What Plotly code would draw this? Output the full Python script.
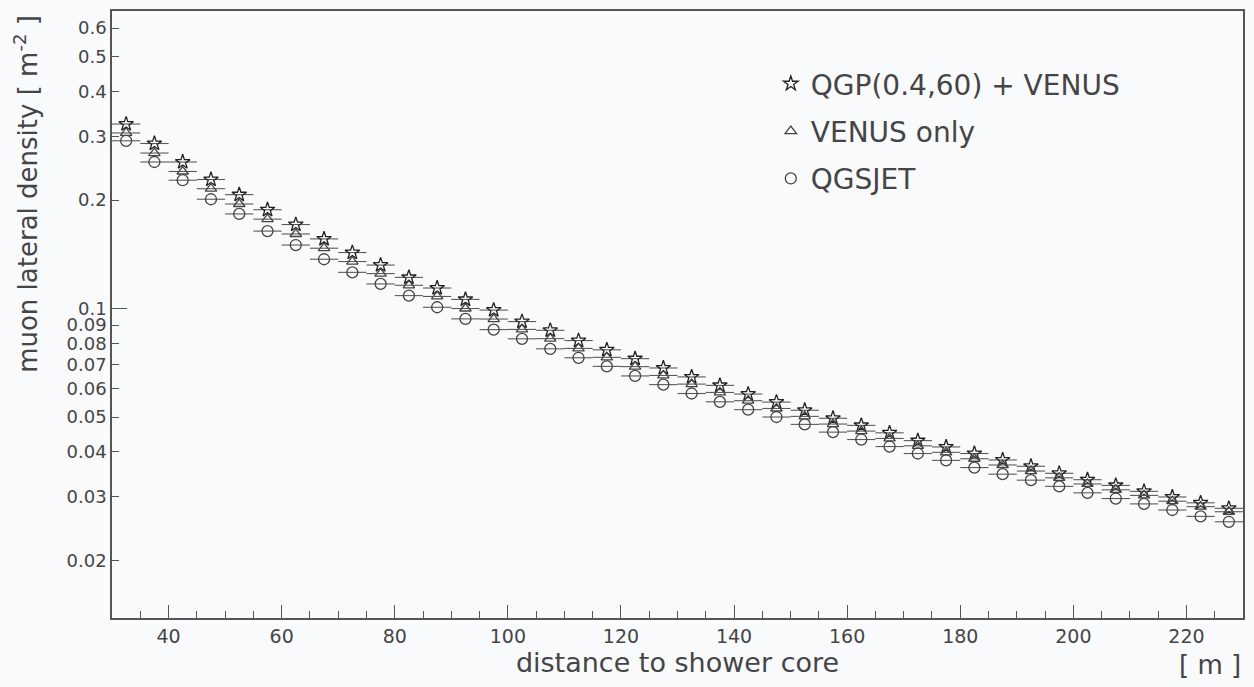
import plotly.graph_objects as go

# Bin edges run from 30 m to 230 m in 5 m steps; points sit at bin centres
bin_width = 5.0
distance = [32.5 + 5.0 * i for i in range(40)]

qgp_venus = [0.325, 0.287, 0.255, 0.228, 0.207, 0.188, 0.171, 0.156, 0.143, 0.132,
             0.122, 0.114, 0.106, 0.099, 0.092, 0.087, 0.0815, 0.0768, 0.0726, 0.0684,
             0.0646, 0.0612, 0.0579, 0.0550, 0.0522, 0.0496, 0.0474, 0.0452, 0.0430, 0.0413,
             0.0396, 0.0380, 0.0365, 0.0349, 0.0335, 0.0323, 0.0311, 0.0300, 0.0289, 0.0279]

venus_only = [0.307, 0.270, 0.240, 0.215, 0.195, 0.177, 0.161, 0.147, 0.135, 0.125,
              0.116, 0.108, 0.100, 0.0935, 0.0875, 0.0825, 0.0775, 0.0732, 0.0690, 0.0652,
              0.0617, 0.0585, 0.0555, 0.0528, 0.0502, 0.0478, 0.0457, 0.0436, 0.0416, 0.0399,
              0.0383, 0.0368, 0.0354, 0.0339, 0.0326, 0.0314, 0.0303, 0.0292, 0.0282, 0.0273]

qgsjet = [0.292, 0.255, 0.227, 0.201, 0.183, 0.164, 0.150, 0.137, 0.126, 0.117,
          0.1086, 0.1008, 0.0936, 0.0874, 0.0824, 0.0773, 0.0730, 0.0691, 0.0650, 0.0615,
          0.0581, 0.0551, 0.0524, 0.0500, 0.0477, 0.0454, 0.0433, 0.0414, 0.0396, 0.0379,
          0.0362, 0.0347, 0.0334, 0.0321, 0.0308, 0.0297, 0.0287, 0.0276, 0.0265, 0.0256]

y_ticks = [0.02, 0.03, 0.04, 0.05, 0.06, 0.07, 0.08, 0.09, 0.1, 0.2, 0.3, 0.4, 0.5, 0.6]
y_tick_text = ["0.02", "0.03", "0.04", "0.05", "0.06", "0.07", "0.08", "0.09",
               "0.1", "0.2", "0.3", "0.4", "0.5", "0.6"]

FONT = "DejaVu Sans"
INK = "#454545"
AXIS = "#555555"
BG = "#f9fafc"

series = [
    ("QGP(0.4,60) + VENUS", qgp_venus, "star-open", 11, "#222222"),
    ("VENUS only", venus_only, "triangle-up-open", 10, "#444444"),
    ("QGSJET", qgsjet, "circle-open", 11, "#444444"),
]

fig = go.Figure()
for i, (name, vals, sym, size, col) in enumerate(series):
    fig.add_trace(go.Scatter(
        x=distance, y=vals, mode="markers", name=name,
        legendgroup=f"g{i}",
        marker=dict(symbol=sym, size=size, color=col, line=dict(width=1.3, color=col)),
        error_x=dict(type="constant", value=bin_width / 2, width=0,
                     thickness=1.1, color="#5a5a5a"),
    ))

# Long tick at 0.1 on an overlaid axis
fig.add_trace(go.Scatter(x=[None], y=[None], yaxis="y2", showlegend=False))

yrange = [-1.8587, -0.1745]

fig.update_layout(
    width=1254, height=687,
    margin=dict(l=112, r=9, t=10, b=69),
    paper_bgcolor=BG, plot_bgcolor=BG,
    font=dict(family=FONT, size=18, color=INK),
    showlegend=True,
    legend=dict(
        x=0.5825, y=0.921, xanchor="left", yanchor="top",
        bgcolor="rgba(0,0,0,0)", font=dict(size=28, color=INK),
        tracegroupgap=8, itemsizing="trace",
    ),
    xaxis=dict(
        range=[30, 230], showgrid=False, zeroline=False,
        showline=True, linecolor=AXIS, linewidth=1.5, mirror=True,
        tick0=0, dtick=20, ticks="inside", ticklen=13, tickwidth=1.2, tickcolor=AXIS,
        minor=dict(dtick=5, ticks="inside", ticklen=7, tickwidth=1.2, tickcolor=AXIS),
        tickfont=dict(size=19, color=INK),
        title=dict(text="distance to shower core", font=dict(size=27, color=INK), standoff=8),
    ),
    yaxis=dict(
        type="log", range=yrange, showgrid=False, zeroline=False,
        showline=True, linecolor=AXIS, linewidth=1.5, mirror=True,
        tickvals=y_ticks, ticktext=y_tick_text,
        ticks="inside", ticklen=7, tickwidth=1.2, tickcolor=AXIS,
        tickfont=dict(size=18, color=INK),
    ),
    yaxis2=dict(
        type="log", range=yrange, overlaying="y", side="left",
        showgrid=False, zeroline=False, showline=False,
        tickvals=[0.1], showticklabels=False,
        ticks="inside", ticklen=15, tickwidth=1.4, tickcolor=AXIS,
    ),
    annotations=[
        dict(text="muon lateral density [ m<sup>-2</sup> ]", textangle=-90,
             xref="paper", yref="paper", x=-0.076, y=0.997,
             xanchor="center", yanchor="top", showarrow=False,
             font=dict(size=26, color=INK)),
        dict(text="[ m ]", xref="paper", yref="paper", x=1.0, y=-0.0773,
             xanchor="right", yanchor="middle", showarrow=False,
             font=dict(size=26, color=INK)),
    ],
)

fig.write_html("out.html")
